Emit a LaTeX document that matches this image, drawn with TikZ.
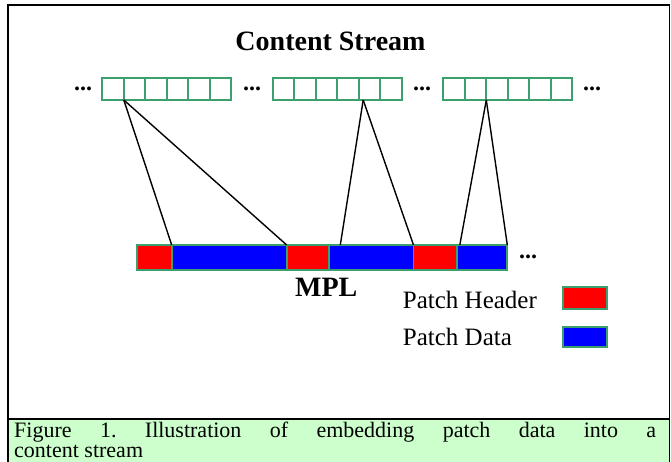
\documentclass[tikz,border=0pt]{standalone}
\usepackage{fontspec}
\setmainfont{Liberation Serif}
\usetikzlibrary{positioning, calc}

\definecolor{cellgreen}{RGB}{60,160,110}
\definecolor{capgreen}{RGB}{204,255,204}

\begin{document}
\begin{tikzpicture}[x=1pt, y=-1pt,
            cell/.style={rectangle, draw=cellgreen, line width=1.8pt, minimum width=21.5pt, minimum height=22pt, inner sep=0pt, outer sep=0pt},
            hdr/.style={rectangle, draw=cellgreen, line width=1.8pt, fill=red, minimum height=25pt, inner sep=0pt, outer sep=0pt},
            dat/.style={hdr, fill=blue},
            ellip/.style={font=\fontsize{24}{24}\selectfont\bfseries, inner sep=0pt},
            title/.style={font=\fontsize{28}{30}\selectfont\bfseries, inner sep=0pt},
            legend/.style={font=\fontsize{25}{27}\selectfont, inner sep=0pt, anchor=base west},
            link/.style={draw=black, line width=1.4pt},
            ]
            \useasboundingbox (0,0) rectangle (671,461);
            %Frame and caption
            \fill[capgreen] (8,419) rectangle (669.5,475);
            \draw[line width=1.6pt] (8,5) rectangle (669.5,475) (8,419) -- (669.5,419);
            \node[anchor=north west, text width=642pt, align=justify, inner sep=0pt, font=\fontsize{22}{20}\selectfont] (caption) at (14,422)
            {\frenchspacing Figure 1. Illustration of embedding patch data into a\linebreak content stream};

            %Content stream
            \node[title, anchor=base] (cstitle) at (330.5,50) {Content Stream};
            \foreach \g/\x in {1/102.3, 2/272.7, 3/443.3} {
              \node[cell, anchor=west] (strm\g-1) at (\x,89) {};
              \foreach \c [count=\p] in {2,...,6}
                \node[cell, right=0pt of strm\g-\p] (strm\g-\c) {};
            }
            \node[ellip] (e0) at (83,89) {...};
            \node[ellip] (e1) at (252,89) {...};
            \node[ellip] (e2) at (422,89) {...};
            \node[ellip] (e3) at (592,89) {...};

            %MPL
            \node[hdr, minimum width=35pt, anchor=west] (h1) at (136.7,257.5) {};
            \node[dat, minimum width=115pt, right=0pt of h1] (d1) {};
            \node[hdr, minimum width=42.6pt, right=0pt of d1] (h2) {};
            \node[dat, minimum width=84.2pt, right=0pt of h2] (d2) {};
            \node[hdr, minimum width=43.8pt, right=0pt of d2] (h3) {};
            \node[dat, minimum width=50pt, right=0pt of h3] (d3) {};
            \node[ellip] (e4) at (528,257) {...};
            \node[title, anchor=base west] (mpl) at (295,296.7) {MPL};

            %Lines
            \draw[link] (strm1-1.south east) -- (d1.north west);
            \draw[link] (strm1-1.south east) -- (d1.north east);
            \draw[link] ($(strm2-5.south west)+(4.5,0)$) -- ($(d2.north west)+(11,0)$);
            \draw[link] ($(strm2-5.south west)+(4.5,0)$) -- (d2.north east);
            \draw[link] (strm3-2.south east) -- ($(d3.north west)+(2.5,0)$);
            \draw[link] (strm3-2.south east) -- (d3.north east);

            %Legend
            \node[legend] (lhdr) at (402.7,308) {Patch Header};
            \node[legend] (ldat) at (402.7,345) {Patch Data};
            \node[hdr, minimum width=43.4pt, minimum height=21.7pt] (khdr) at (585,298.2) {};
            \node[dat, minimum width=43.4pt, minimum height=20.6pt] (kdat) at (585,337) {};
          \end{tikzpicture}
\end{document}
